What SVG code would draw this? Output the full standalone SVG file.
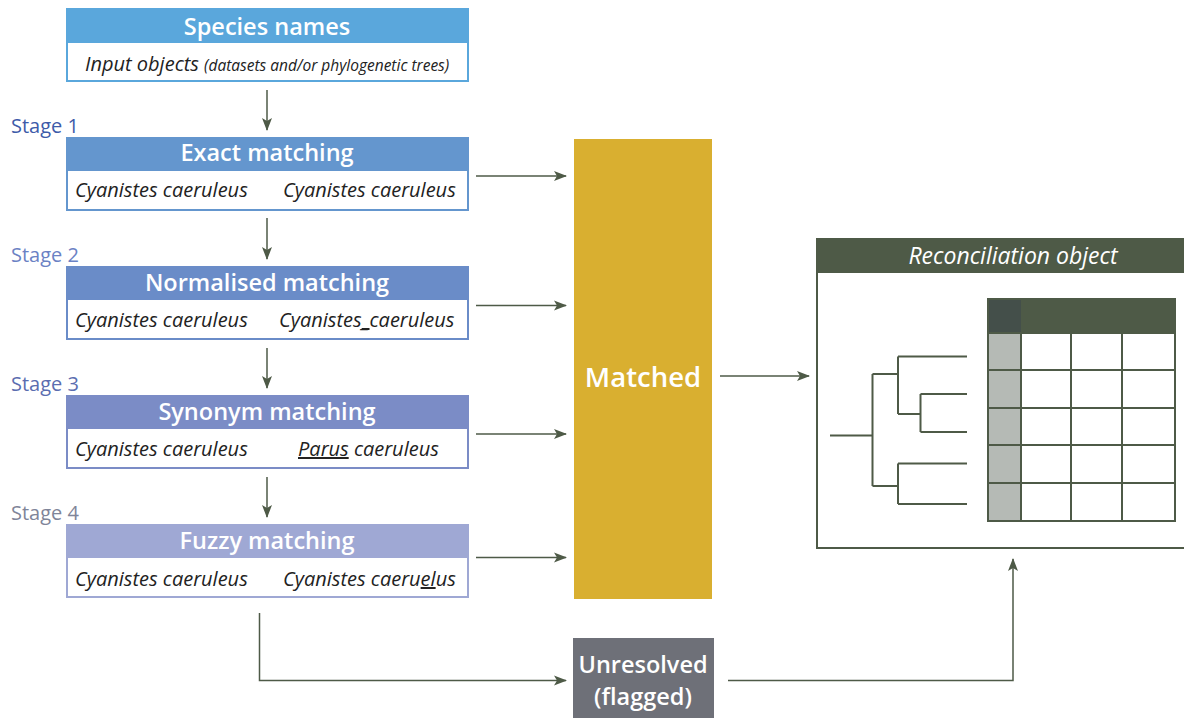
<svg xmlns="http://www.w3.org/2000/svg" width="1184" height="718" viewBox="0 0 1184 718">
<defs>
<marker id="ah" markerWidth="14" markerHeight="12" refX="12" refY="6" orient="auto" markerUnits="userSpaceOnUse">
<path d="M0,1 L13,6 L0,11 L3,6 Z" fill="#4E5A47"/>
</marker>
<style>
.hd{font-family:"Open Sans","Noto Sans",sans-serif;font-weight:600;fill:#fff;font-size:23.5px;text-anchor:middle}
.it{font-family:"Open Sans","Noto Sans",sans-serif;font-style:italic;fill:#222;font-size:20px}
.st{font-family:"Open Sans","Noto Sans",sans-serif;font-size:20px}
.con{fill:none;stroke:#4E5A47;stroke-width:1.5}
.ar{marker-end:url(#ah)}
.tl{stroke:#4E5A47;stroke-width:2;fill:none}
.u{text-decoration:underline}
</style>
</defs>
<rect width="1184" height="718" fill="#fff"/>

<g id="species">
<rect x="67" y="9" width="401" height="72" fill="#fff" stroke="#5AA7DC" stroke-width="2"/>
<rect x="66" y="8" width="403" height="35" fill="#5AA7DC"/>
<text class="hd" x="267" y="35">Species names</text>
<text class="it" x="85" y="71">Input objects <tspan font-size="15.5">(datasets and/or phylogenetic trees)</tspan></text>
</g>

<g id="stage1">
<text class="st" x="11" y="133" fill="#3D5BA9">Stage 1</text>
<rect x="67" y="138" width="401" height="72" fill="#fff" stroke="#6496CE" stroke-width="2"/>
<rect x="66" y="137" width="403" height="34" fill="#6496CE"/>
<text class="hd" x="267" y="161">Exact matching</text>
<text class="it" x="75" y="197">Cyanistes caeruleus</text>
<text class="it" x="283" y="197">Cyanistes caeruleus</text>
</g>

<g id="stage2">
<text class="st" x="11" y="262" fill="#6B82C4">Stage 2</text>
<rect x="67" y="267" width="401" height="72" fill="#fff" stroke="#6A8CC8" stroke-width="2"/>
<rect x="66" y="266" width="403" height="34" fill="#6A8CC8"/>
<text class="hd" x="267" y="291">Normalised matching</text>
<text class="it" x="75" y="327">Cyanistes caeruleus</text>
<text class="it" x="279" y="327">Cyanistes<tspan class="u">_</tspan>caeruleus</text>
</g>

<g id="stage3">
<text class="st" x="11" y="391" fill="#5B6DB0">Stage 3</text>
<rect x="67" y="396" width="401" height="72" fill="#fff" stroke="#7B8CC6" stroke-width="2"/>
<rect x="66" y="395" width="403" height="34" fill="#7B8CC6"/>
<text class="hd" x="267" y="420">Synonym matching</text>
<text class="it" x="75" y="456">Cyanistes caeruleus</text>
<text class="it" x="298" y="456"><tspan class="u">Parus</tspan> caeruleus</text>
</g>

<g id="stage4">
<text class="st" x="11" y="520" fill="#7F8599">Stage 4</text>
<rect x="67" y="525" width="401" height="72" fill="#fff" stroke="#9FA8D4" stroke-width="2"/>
<rect x="66" y="524" width="403" height="34" fill="#9FA8D4"/>
<text class="hd" x="267" y="549">Fuzzy matching</text>
<text class="it" x="75" y="586">Cyanistes caeruleus</text>
<text class="it" x="283" y="586">Cyanistes caeru<tspan class="u">el</tspan>us</text>
</g>

<g id="matched">
<rect x="574" y="139" width="138" height="460" fill="#D9AF30"/>
<text class="hd" x="643" y="387" style="font-size:27.5px">Matched</text>
</g>

<g id="unresolved">
<rect x="573" y="638" width="141" height="80" fill="#6E7078"/>
<text class="hd" x="643" y="673">Unresolved</text>
<text class="hd" x="643" y="705">(flagged)</text>
</g>

<g id="reconciliation">
<rect x="817" y="239" width="380" height="309" fill="#fff" stroke="#4E5A47" stroke-width="2"/>
<rect x="816" y="238" width="368" height="35" fill="#4E5A47"/>
<text class="hd" x="1013" y="264" style="font-style:italic;font-weight:500;font-size:23px">Reconciliation object</text>
<rect x="988" y="299" width="187" height="34" fill="#4E5A47"/>
<rect x="988" y="299" width="33" height="34" fill="#444F4A"/>
<rect x="988" y="333" width="33" height="188" fill="#B5BAB5"/>
<g class="tl">
<rect x="988" y="299" width="187" height="222"/>
<line x1="1021" y1="333" x2="1021" y2="521"/>
<line x1="1071" y1="333" x2="1071" y2="521"/>
<line x1="1122" y1="333" x2="1122" y2="521"/>
<line x1="988" y1="333" x2="1175" y2="333"/>
<line x1="988" y1="370" x2="1175" y2="370"/>
<line x1="988" y1="408" x2="1175" y2="408"/>
<line x1="988" y1="445" x2="1175" y2="445"/>
<line x1="988" y1="483" x2="1175" y2="483"/>
<path d="M830,435.5 H872.5 M872.5,374 V486 M872.5,374 H898 M872.5,486 H898 M898,356.5 V414 M898,356.5 H967 M898,414 H920.5 M920.5,394 V432 M920.5,394 H967 M920.5,432 H967 M898,463.5 V504 M898,463.5 H967 M898,504 H967"/>
</g>
</g>

<g id="connectors">
<line class="con ar" x1="267" y1="90" x2="267" y2="130"/>
<line class="con ar" x1="267" y1="218" x2="267" y2="259"/>
<line class="con ar" x1="267" y1="348" x2="267" y2="388"/>
<line class="con ar" x1="267" y1="477" x2="267" y2="517"/>
<line class="con ar" x1="476" y1="176" x2="566" y2="176"/>
<line class="con ar" x1="476" y1="305.5" x2="566" y2="305.5"/>
<line class="con ar" x1="476" y1="434" x2="566" y2="434"/>
<line class="con ar" x1="476" y1="557.5" x2="566" y2="557.5"/>
<line class="con ar" x1="720" y1="376" x2="809" y2="376"/>
<path class="con ar" d="M259.5,613 V680.5 H566"/>
<path class="con ar" d="M728,680.5 H1013 V559"/>
</g>
</svg>
